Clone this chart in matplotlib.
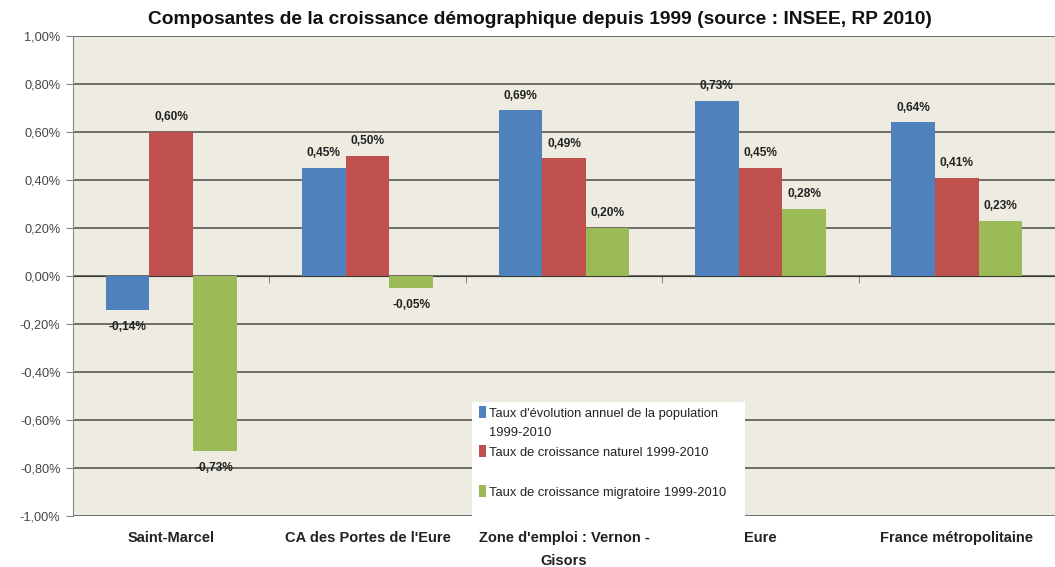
import matplotlib.pyplot as plt
from matplotlib.patches import Rectangle
import numpy as np

# croissance démographique depuis 1999 (INSEE, RP 2010), en %
territoires = ["Saint-Marcel", "CA des Portes de l'Eure", "Zone d'emploi : Vernon -\nGisors",
               "Eure", "France métropolitaine"]
evolution = [-0.14, 0.45, 0.69, 0.73, 0.64]
naturel = [0.60, 0.50, 0.49, 0.45, 0.41]
migratoire = [-0.73, -0.05, 0.20, 0.28, 0.23]

series_labels = ["Taux d'évolution annuel de la population\n1999-2010",
                 "Taux de croissance naturel 1999-2010",
                 "Taux de croissance migratoire 1999-2010"]
colors = ["#4F81BD", "#C0504D", "#9BBB59"]
yticks = np.round(np.arange(-1.0, 1.01, 0.2), 2)


def pct(v):
    v = round(v, 2)
    if v == 0:
        v = 0.0
    return f"{v:.2f}".replace(".", ",") + "%"


plt.rcParams['font.family'] = ['Liberation Sans', 'DejaVu Sans']

fig = plt.figure(figsize=(10.55, 5.67), dpi=100)
ax = fig.add_axes([73 / 1055, 1 - 516 / 567, 1 - 73 / 1055, 480 / 567])
ax.set_facecolor("#EEECE1")

x = np.arange(len(territoires))
width = 0.222
for i, (vals, col) in enumerate(zip([evolution, naturel, migratoire], colors)):
    xs = x + (i - 1) * width
    ax.bar(xs, vals, width, color=col, zorder=3)
    for xi, v in zip(xs, vals):
        off = 0.062 if v >= 0 else -0.072
        ax.text(xi, v + off, pct(v), ha="center", va="center", fontsize=8.6,
                fontweight="bold", color="#222222", zorder=4)

ax.set_xlim(-0.5, len(territoires) - 0.5)
ax.set_ylim(-1.0, 1.0)
ax.set_yticks(yticks)
ax.set_yticklabels([pct(v) for v in yticks], fontsize=9.2, color="#444444")
ax.tick_params(axis="y", length=5, color="#888888", pad=4)
ax.yaxis.grid(True, color="#4a4a4a", linewidth=1.1, zorder=1)
ax.set_axisbelow(True)

ax.set_xticks(x)
ax.set_xticklabels(territoires, fontsize=10.5, fontweight="bold", color="#222222",
                   linespacing=1.75)
ax.tick_params(axis="x", length=0, pad=11)

for side in ["top", "right", "bottom"]:
    ax.spines[side].set_visible(False)
ax.spines["left"].set_color("#888888")

# axe des catégories sur la ligne du zéro, graduations entre les groupes
zero_axis = ax.secondary_xaxis(0.5)
zero_axis.set_xticks(np.arange(0.5, len(territoires) - 0.5, 1.0), labels=[])
zero_axis.xaxis.set_ticks_position("bottom")
zero_axis.tick_params(axis="x", direction="out", length=5, color="#888888",
                      labelbottom=False, labeltop=False)
zero_axis.spines["bottom"].set_color("#888888")
zero_axis.spines["bottom"].set_linewidth(1.0)

# légende
ax.add_patch(Rectangle((0.406, -0.013), 0.278, 0.2505, transform=ax.transAxes,
                       facecolor="white", edgecolor="none", zorder=5, clip_on=False))
legend_y = [0.2167, 0.1354, 0.052]
for col, lab, ly in zip(colors, series_labels, legend_y):
    ax.add_patch(Rectangle((0.4135, ly - 0.0125), 0.0072, 0.025, transform=ax.transAxes,
                           facecolor=col, edgecolor="none", zorder=6))
    ax.text(0.4235, ly + 0.008, lab, transform=ax.transAxes, fontsize=9.3,
            color="#222222", ha="left", va="top", linespacing=1.75, zorder=6)

fig.text(540 / 1055, 1 - 20 / 567,
         "Composantes de la croissance démographique depuis 1999 (source : INSEE, RP 2010)",
         ha="center", va="center", fontsize=13.8, fontweight="bold", color="#111111")

fig.savefig("out.png", dpi=100)
